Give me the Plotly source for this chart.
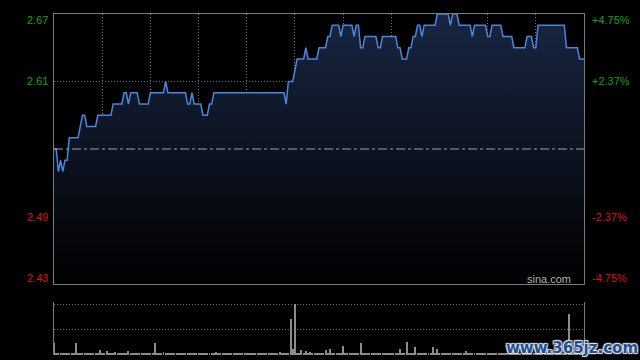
import plotly.graph_objects as go

# ---------------- data ----------------
prev_close = 2.55
price = [
    2.55, 2.55, 2.53, 2.54, 2.53, 2.54, 2.54,
    2.56, 2.56, 2.56, 2.56, 2.56, 2.57, 2.58, 2.58,
    2.57, 2.57, 2.57, 2.57, 2.57, 2.58, 2.58, 2.58, 2.58, 2.58, 2.58, 2.58,
    2.59, 2.59, 2.59, 2.59, 2.59, 2.60, 2.60, 2.59, 2.60, 2.60, 2.60, 2.60,
    2.59, 2.59, 2.59, 2.59, 2.59, 2.60, 2.60, 2.60, 2.60, 2.60, 2.60, 2.60, 2.61,
    2.60, 2.60, 2.60, 2.60, 2.60, 2.60, 2.60, 2.60, 2.60, 2.59, 2.59, 2.60,
    2.59, 2.59, 2.59, 2.59, 2.58, 2.58, 2.58, 2.59, 2.59,
    2.60, 2.60, 2.60, 2.60, 2.60, 2.60, 2.60, 2.60, 2.60, 2.60, 2.60,
    2.60, 2.60, 2.60, 2.60, 2.60, 2.60, 2.60, 2.60, 2.60, 2.60, 2.60,
    2.60, 2.60, 2.60, 2.60, 2.60, 2.60, 2.60, 2.60, 2.60, 2.60, 2.60,
    2.59, 2.61, 2.61, 2.61, 2.62, 2.63, 2.63, 2.63, 2.63, 2.64,
    2.63, 2.63, 2.63, 2.63, 2.63,
    2.64, 2.64, 2.64, 2.64, 2.65, 2.65, 2.66, 2.66, 2.66, 2.66, 2.65,
    2.66, 2.66, 2.66, 2.66, 2.66, 2.65, 2.66, 2.66,
    2.64, 2.64, 2.65, 2.65, 2.65, 2.65, 2.65, 2.65, 2.64, 2.64,
    2.65, 2.65, 2.65, 2.65, 2.65, 2.65, 2.65, 2.64, 2.64,
    2.63, 2.63, 2.63, 2.64, 2.64, 2.65, 2.65, 2.66, 2.66, 2.65,
    2.66, 2.66, 2.66, 2.66, 2.66, 2.66, 2.67, 2.67, 2.67, 2.67, 2.67, 2.67,
    2.66, 2.67, 2.67, 2.67, 2.66, 2.66, 2.66, 2.66, 2.66, 2.66, 2.65,
    2.66, 2.66, 2.66, 2.66, 2.66, 2.66, 2.65, 2.65,
    2.66, 2.66, 2.66, 2.66, 2.66, 2.65, 2.65, 2.65, 2.65, 2.65,
    2.64, 2.64, 2.64, 2.64, 2.64, 2.64, 2.65, 2.65, 2.65, 2.64, 2.64,
    2.66, 2.66, 2.66, 2.66, 2.66, 2.66, 2.66, 2.66, 2.66, 2.66, 2.66, 2.66, 2.66,
    2.64, 2.64, 2.64, 2.64, 2.64, 2.64, 2.63, 2.63, 2.63,
]
volume = [
    23, 2, 3, 2, 3, 2, 4, 2, 2, 3,
    23, 2, 2, 3, 2, 2, 2, 4, 2, 2,
    3, 10, 2, 2, 8, 2, 3, 2, 6, 2,
    2, 2, 3, 2, 8, 2, 2, 2, 4, 2,
    2, 2, 3, 2, 2, 2, 24, 2, 2, 3,
    6, 2, 2, 2, 3, 2, 2, 2, 2, 3,
    2, 2, 2, 3, 2, 2, 2, 2, 3, 2,
    2, 2, 2, 3, 6, 2, 2, 2, 2, 3,
    2, 2, 2, 2, 3, 2, 2, 2, 2, 3,
    2, 2, 2, 2, 3, 2, 2, 2, 2, 3,
    2, 2, 3, 6, 2, 2, 2, 3, 71, 12,
    100, 3, 2, 10, 3, 8, 2, 6, 3, 2,
    4, 2, 3, 2, 10, 2, 12, 3, 2, 2,
    3, 2, 18, 2, 2, 3, 2, 4, 2, 3,
    24, 2, 2, 3, 2, 2, 4, 2, 2, 3,
    2, 2, 3, 2, 2, 2, 3, 2, 11, 2,
    3, 25, 2, 2, 3, 16, 2, 2, 3, 2,
    2, 3, 2, 15, 2, 12, 3, 2, 2, 3,
    2, 2, 2, 3, 2, 2, 2, 3, 8, 2,
    2, 2, 3, 2, 2, 2, 2, 3, 2, 2,
    3, 2, 2, 2, 3, 2, 2, 2, 3, 2,
    2, 2, 3, 2, 2, 3, 2, 2, 2, 3,
    2, 4, 2, 2, 3, 2, 2, 2, 3, 2,
    2, 3, 2, 2, 4, 80, 3, 2, 2, 3,
    2, 3, 4,
]
minutes = list(range(len(price)))
vol_minutes = list(range(len(volume)))
price_ticks = [2.67, 2.61, 2.49, 2.43]
price_labels = ["2.67", "2.61", "2.49", "2.43"]
pct_labels = ["+4.75%", "+2.37%", "-2.37%", "-4.75%"]
time_grid = [22, 44, 66, 88, 110, 132, 154, 176, 198, 220]
vol_grid = [50, 100]

# ---------------- styling ----------------
W, H = 640, 360
GREEN = "rgb(16,164,16)"
RED = "rgb(222,18,18)"
FRAME = "#7a7a7a"
GRID = "#707070"
DOT = "1px,2px"
FONT = "Liberation Sans, Arial, sans-serif"
x_dom = [54 / W, 584 / W]
main_dom = [1 - 284 / H, 1 - 14 / H]
vol_dom = [1 - 355 / H, 1 - 302 / H]

fig = go.Figure()
fig.add_trace(go.Scatter(
    x=minutes, y=price, mode="lines",
    line=dict(color="#4a86de", width=1.5),
    fill="tozeroy",
    fillgradient=dict(type="vertical",
                      colorscale=[[0, "rgb(0,0,0)"], [1, "rgb(24,38,66)"]],
                      start=2.43, stop=2.67),
    xaxis="x", yaxis="y", hoverinfo="skip",
))
fig.add_trace(go.Bar(
    x=vol_minutes, y=volume, width=0.45,
    marker=dict(color="#8c8c8c", line=dict(width=0)),
    xaxis="x2", yaxis="y2", hoverinfo="skip",
))

fig.add_shape(type="line", xref="x", yref="y", x0=0, x1=242,
              y0=prev_close, y1=prev_close,
              line=dict(color="#a0a0a0", width=1, dash="dashdot"))

annotations = []
shifts = [-6, 0, 0, 6]
for v, lab, pl, s in zip(price_ticks, price_labels, pct_labels, shifts):
    col = GREEN if v > prev_close else RED
    annotations.append(dict(xref="paper", yref="y", x=50 / W, y=v, yshift=s,
                            text=lab, showarrow=False, xanchor="right",
                            yanchor="middle", font=dict(color=col, size=11, family=FONT)))
    annotations.append(dict(xref="paper", yref="y", x=590 / W, y=v, yshift=s,
                            text=pl, showarrow=False, xanchor="left",
                            yanchor="middle", font=dict(color=col, size=11, family=FONT)))
annotations.append(dict(xref="paper", yref="paper", x=573 / W, y=1 - 279 / H,
                        text="sina.com", showarrow=False, xanchor="right",
                        yanchor="middle", font=dict(color="#b0b0b0", size=11, family=FONT)))
annotations.append(dict(xref="paper", yref="paper", x=1.0, y=1 - 348 / H,
                        text="<b>www.365jz.com</b>", showarrow=False, xanchor="right",
                        yanchor="middle",
                        font=dict(color="#1d4f9a", size=15, family="DejaVu Sans",
                                  shadow="1px 1px 1px #e8e8e8, -1px -1px 1px #e8e8e8, 1px -1px 1px #e8e8e8, -1px 1px 1px #e8e8e8")))

axis_common = dict(showticklabels=False, ticks="", zeroline=False, fixedrange=True)
fig.update_layout(
    width=W, height=H,
    margin=dict(l=0, r=0, t=0, b=0),
    paper_bgcolor="black", plot_bgcolor="black",
    showlegend=False,
    xaxis=dict(domain=x_dom, range=[0, 242], anchor="y",
               tickmode="array", tickvals=time_grid,
               showgrid=True, gridcolor=GRID, griddash=DOT, gridwidth=1,
               showline=True, linecolor=FRAME, linewidth=1, mirror=True,
               **axis_common),
    yaxis=dict(domain=main_dom, range=[2.43, 2.67], anchor="x",
               tickmode="array", tickvals=[2.49, 2.61],
               showgrid=True, gridcolor=GRID, griddash=DOT, gridwidth=1,
               showline=True, linecolor=FRAME, linewidth=1, mirror=True,
               **axis_common),
    xaxis2=dict(domain=x_dom, range=[0, 242], anchor="y2",
                showgrid=False, showline=False, **axis_common),
    yaxis2=dict(domain=vol_dom, range=[0, 104], anchor="x2",
                tickmode="array", tickvals=vol_grid,
                showgrid=True, gridcolor=GRID, griddash=DOT, gridwidth=1,
                showline=True, linecolor=FRAME, linewidth=1, mirror=True,
                **axis_common),
    annotations=annotations,
    bargap=0,
)

fig.write_html("out.html")
